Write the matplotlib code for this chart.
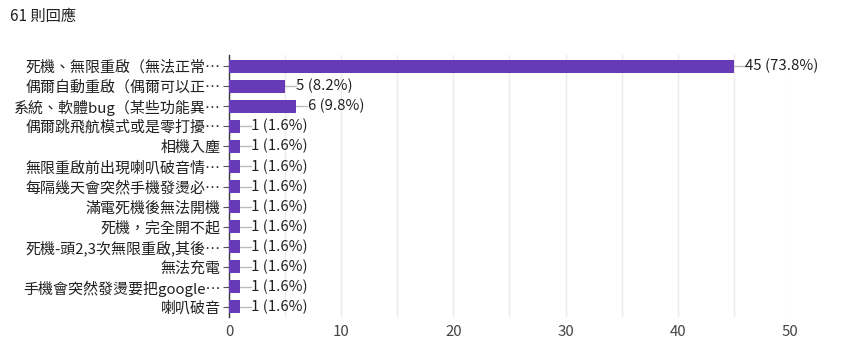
import matplotlib
matplotlib.use("Agg")
import matplotlib.pyplot as plt
import numpy as np

plt.rcParams['font.family'] = ['Noto Sans CJK TC', 'DejaVu Sans']

categories = [
    "死機、無限重啟（無法正常…",
    "偶爾自動重啟（偶爾可以正…",
    "系統、軟體bug（某些功能異…",
    "偶爾跳飛航模式或是零打擾…",
    "相機入塵",
    "無限重啟前出現喇叭破音情…",
    "每隔幾天會突然手機發燙必…",
    "滿電死機後無法開機",
    "死機，完全開不起",
    "死機-頭2,3次無限重啟,其後…",
    "無法充電",
    "手機會突然發燙要把google…",
    "喇叭破音",
]
counts = [45, 5, 6, 1, 1, 1, 1, 1, 1, 1, 1, 1, 1]
percents = ["73.8%", "8.2%", "9.8%", "1.6%", "1.6%", "1.6%", "1.6%", "1.6%", "1.6%", "1.6%", "1.6%", "1.6%", "1.6%"]
xticks = [0, 10, 20, 30, 40, 50]
title = "61 則回應"

fig = plt.figure(figsize=(8.53, 3.52), dpi=100)
ax = fig.add_axes([229/853, 1-317/352, (790-229)/853, (317-55)/352])

y = np.arange(len(categories))
ax.barh(y, counts, height=0.65, color="#673ab7", zorder=3)

for i, (c, p) in enumerate(zip(counts, percents)):
    ax.plot([c, c + 0.95], [i, i], color="#bdbdbd", lw=1, zorder=2, clip_on=False)
    ax.text(c + 1.0, i, f"{c} ({p})", va="center", ha="left", fontsize=10.8, color="#212121")

ax.set_xlim(0, 50)
ax.set_ylim(len(categories) - 0.5, -0.55)
ax.set_xticks(xticks)
ax.set_xticks(np.arange(0, 51, 5), minor=True)
ax.grid(axis="x", which="both", color="#ebebeb", lw=1, zorder=0)
ax.set_yticks(y)
ax.set_yticklabels(categories, fontsize=10.8, color="#212121")
ax.tick_params(axis="y", length=4, color="#555555", pad=2)
ax.tick_params(axis="x", which="both", length=0, labelsize=10.8, labelcolor="#444444", pad=6)
for s in ["top", "right", "bottom"]:
    ax.spines[s].set_visible(False)
ax.spines["left"].set_color("#333333")
ax.spines["left"].set_linewidth(1)

fig.text(10/853, 1-16/352, title, fontsize=11, color="#212121", va="center", ha="left")

fig.savefig("out.png", dpi=100)
